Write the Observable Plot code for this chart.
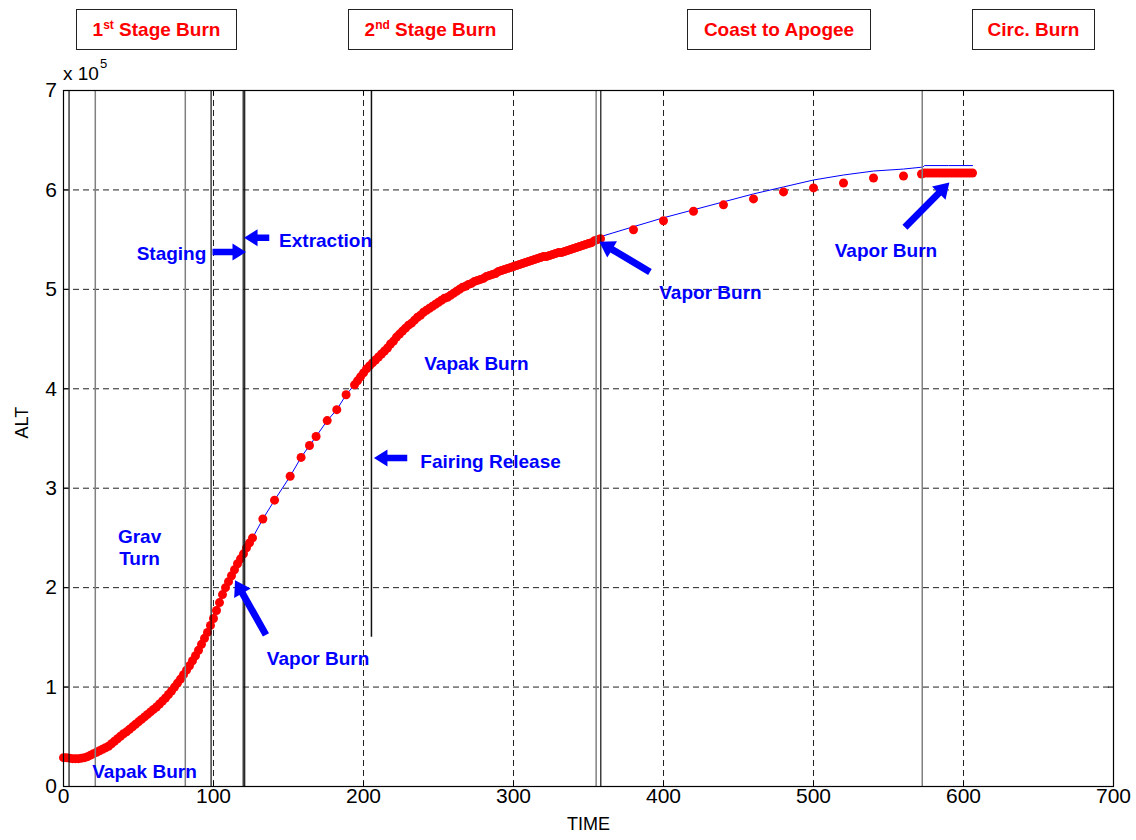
<!DOCTYPE html>
<html>
<head>
<meta charset="utf-8">
<script src="https://cdn.jsdelivr.net/npm/d3@7"></script>
<script src="https://cdn.jsdelivr.net/npm/@observablehq/plot@0.6"></script>
<style>
  body { margin: 0; background: #fff; }
  #chart { position: relative; width: 1136px; height: 840px; font-family: "Liberation Sans", Arial, Helvetica, sans-serif; }
  .phase { position: absolute; top: 9px; height: 41px; line-height: 40px; box-sizing: border-box; border: 1.5px solid #222;
           text-align: center; white-space: pre; color: #ff0000; font-weight: bold; font-size: 19px; background: #fff; }
  .phase sup { font-size: 12px; line-height: 0; vertical-align: 0; position: relative; top: -7px; }
</style>
</head>
<body>
<div id="chart"></div>
<script>
// Altitude values are in units of 10^5 (the axis multiplier), time in seconds.

// First stage ascent, densely sampled telemetry
const burnOneTime = [0,2,4,6,8,10,12,14,16,18,20,22,24,26,28,30,32,34,36,38,40,42,44,46,48,50,52,54,56,58,60,62,64,66,68,70,72,74,76,78,80,82,84,86,88,90,92,94,96,98,100,102,104,106,108,110,112,114,116,118,120,122,124,126];
const burnOneAlt  = [0.29,0.29,0.285,0.28,0.28,0.28,0.285,0.29,0.30,0.315,0.33,0.345,0.36,0.375,0.39,0.405,0.43,0.455,0.48,0.505,0.53,0.55,0.575,0.60,0.625,0.65,0.675,0.70,0.725,0.75,0.775,0.80,0.83,0.86,0.89,0.925,0.96,1.00,1.04,1.08,1.125,1.17,1.215,1.265,1.315,1.37,1.43,1.49,1.55,1.62,1.69,1.77,1.85,1.93,2.00,2.06,2.12,2.18,2.24,2.29,2.34,2.40,2.45,2.50];

// Sparse samples after staging
const stagingTime = [132.9,140.7,151.1,158.4,164,168.4,175.8,182.2,188.4,194];
const stagingAlt  = [2.69,2.88,3.12,3.31,3.43,3.52,3.68,3.79,3.94,4.04];

// Second stage burn, densely sampled
const burnTwoTime = [196,198,200,202,204,206,208,210,212,214,216,218,220,222,224,226,228,230,232,234,236,238,240,242,244,246,248,250,252,254,256,258,260,262,264,266,268,270,272,274,276,278,280,282,284,286,288,290,292,294,296,298,300,302,304,306,308,310,312,314,316,318,320,322,324,326,328,330,332,334,336,338,340,342,344,346,348,350,352,354,356,358];
const burnTwoAlt  = [4.08,4.12,4.16,4.20,4.23,4.26,4.29,4.32,4.35,4.38,4.41,4.45,4.48,4.52,4.55,4.58,4.61,4.64,4.66,4.69,4.72,4.74,4.77,4.79,4.81,4.83,4.85,4.87,4.89,4.91,4.92,4.94,4.96,4.98,5.00,5.02,5.03,5.05,5.06,5.08,5.09,5.10,5.11,5.13,5.14,5.15,5.16,5.18,5.19,5.20,5.21,5.22,5.23,5.24,5.25,5.26,5.27,5.28,5.29,5.30,5.31,5.32,5.33,5.33,5.34,5.35,5.36,5.37,5.37,5.38,5.39,5.40,5.41,5.42,5.43,5.44,5.45,5.46,5.47,5.49,5.50,5.51];

// Coast to apogee, sparse samples
const coastTime = [380,400,420,440,460,480,500,520,540,560];
const coastAlt  = [5.60,5.69,5.785,5.85,5.91,5.98,6.02,6.07,6.12,6.14];

// Circularization burn, densely sampled
const circTime = [572,574,576,578,580,582,584,586,588,590,592,594,596,598,600,602,604,606];
const circAlt  = [6.16,6.17,6.17,6.17,6.17,6.17,6.17,6.17,6.17,6.17,6.17,6.17,6.17,6.17,6.17,6.17,6.17,6.17];

// Nominal trajectory after the second-stage burn
const nominalTime = [358,380,400,420,440,460,480,500,520,540,560,573,574,590,606];
const nominalAlt  = [5.53,5.63,5.72,5.80,5.88,5.96,6.03,6.10,6.15,6.19,6.21,6.23,6.245,6.245,6.245];

// Event markers (seconds)
const eventTimesDark = [3.7, 98.4, 119.8, 120.8, 358.2];
const eventTimesGray = [21.2, 81.2, 355.1, 572.5];
const fairingTime = 205.3;
const fairingFloor = 1.5;

// Axes
const xTicks = [0,100,200,300,400,500,600,700];
const yTicks = [0,1,2,3,4,5,6,7];
const xGrid = [100,200,300,400,500,600];
const yGrid = [1,2,3,4,5,6];

// Phase banners
const phaseNames = ["1|st| Stage Burn", "2|nd| Stage Burn", "Coast to Apogee", "Circ. Burn"];

// Callout labels
const noteLabels = ["Staging","Extraction","Grav\nTurn","Vapak Burn","Vapor Burn","Vapak Burn","Fairing Release","Vapor Burn","Vapor Burn"];
const noteTime   = [72, 174.7, 50.7, 54, 169.7, 275.3, 284.7, 431.3, 548.3];
const noteAlt    = [5.37, 5.50, 2.41, 0.16, 1.29, 4.26, 3.27, 4.97, 5.40];

// Callout arrows: tail -> tip
const arrowTailTime = [99.7, 137.5, 135.3, 229.5, 391.3, 561.3];
const arrowTailAlt  = [5.37, 5.515, 1.52, 3.30, 5.17, 5.62];
const arrowTipTime  = [122, 120.7, 114.7, 207.3, 357.5, 590.9];
const arrowTipAlt   = [5.37, 5.515, 2.07, 3.30, 5.474, 6.07];

const zip = (ts, as) => ts.map((t, i) => ({t, alt: as[i]}));
const samples = [
  ...zip(burnOneTime, burnOneAlt),
  ...zip(stagingTime, stagingAlt),
  ...zip(burnTwoTime, burnTwoAlt),
  ...zip(coastTime, coastAlt),
  ...zip(circTime, circAlt)
];
const track = [
  ...zip(burnOneTime, burnOneAlt),
  ...zip(stagingTime, stagingAlt),
  ...zip(burnTwoTime, burnTwoAlt),
  ...zip(nominalTime, nominalAlt)
];
const notes = noteLabels.map((label, i) => ({label, t: noteTime[i], alt: noteAlt[i]}));

const W = 1136, H = 840, mL = 63, mR = 23, mT = 90, mB = 54;
const innerW = W - mL - mR, innerH = H - mT - mB;
const font = "'Liberation Sans', Arial, Helvetica, sans-serif";

const chart = Plot.plot({
  width: W, height: H,
  marginLeft: mL, marginRight: mR, marginTop: mT, marginBottom: mB,
  style: {fontFamily: font, background: "#fff", color: "#000", overflow: "visible"},
  x: {domain: [0, 700], axis: null},
  y: {domain: [0, 7], axis: null},
  marks: [
    Plot.ruleX(xGrid, {x: d => d, stroke: "#222", strokeWidth: 1, strokeDasharray: "6,4"}),
    Plot.ruleY(yGrid, {y: d => d, stroke: "#222", strokeWidth: 1, strokeDasharray: "6,4"}),
    Plot.line(track, {x: "t", y: "alt", stroke: "#0000ff", strokeWidth: 1}),
    Plot.dot(samples, {x: "t", y: "alt", r: 4.5, fill: "#ff0000", stroke: "none"}),
    Plot.ruleX(eventTimesGray, {x: d => d, stroke: "#808080", strokeWidth: 1.5}),
    Plot.ruleX(eventTimesDark, {x: d => d, stroke: "#111", strokeWidth: 1.2}),
    Plot.ruleX([fairingTime], {x: d => d, y1: fairingFloor, y2: 7, stroke: "#111", strokeWidth: 1.5}),
    Plot.frame({stroke: "#000", strokeWidth: 1.2}),
    // inward ticks on all four sides
    Plot.ruleX(xTicks, {x: d => d, insetTop: innerH - 5, stroke: "#000"}),
    Plot.ruleX(xTicks, {x: d => d, insetBottom: innerH - 5, stroke: "#000"}),
    Plot.ruleY(yTicks, {y: d => d, insetRight: innerW - 5, stroke: "#000"}),
    Plot.ruleY(yTicks, {y: d => d, insetLeft: innerW - 5, stroke: "#000"}),
    Plot.text(xTicks, {x: d => d, text: d => String(d), frameAnchor: "bottom", dy: 16, fontSize: 21, fill: "#000"}),
    Plot.text(yTicks, {y: d => d, text: d => String(d), frameAnchor: "left", dx: -6.5, textAnchor: "end", fontSize: 21, fill: "#000"}),
    Plot.text(["TIME"], {text: d => d, frameAnchor: "bottom", dy: 43, fontSize: 18, fill: "#000"}),
    Plot.text(["ALT"], {text: d => d, frameAnchor: "left", dx: -41, rotate: -90, fontSize: 18, fill: "#000"}),
    Plot.text(notes, {x: "t", y: "alt", text: "label", fill: "#0000ff", fontWeight: "bold", fontSize: 19, lineHeight: 1.15, ariaLabel: "callout"})
  ]
});

const root = document.getElementById("chart");
root.appendChild(chart);

// White boxes behind callout labels
const calloutGroup = chart.querySelector('g[aria-label="callout"]');
if (calloutGroup) {
  calloutGroup.querySelectorAll("text").forEach(txt => {
    const b = txt.getBBox();
    const r = document.createElementNS("http://www.w3.org/2000/svg", "rect");
    r.setAttribute("x", b.x - 2);
    r.setAttribute("y", b.y);
    r.setAttribute("width", b.width + 4);
    r.setAttribute("height", b.height);
    r.setAttribute("fill", "#fff");
    const tf = txt.getAttribute("transform");
    if (tf) r.setAttribute("transform", tf);
    calloutGroup.insertBefore(r, txt);
  });
}

// Filled callout arrows, positioned through the plot's scales
const sx = chart.scale("x"), sy = chart.scale("y");
const fx = v => sx.apply(v), fy = v => sy.apply(v);
const svg = d3.select(chart);
const arrowLayer = svg.append("g").attr("fill", "#0000ff");
arrowTipTime.forEach((_, i) => {
  const x0 = fx(arrowTailTime[i]), y0 = fy(arrowTailAlt[i]);
  const x1 = fx(arrowTipTime[i]), y1 = fy(arrowTipAlt[i]);
  const diag = Math.abs(y1 - y0) > 1;
  const shaft = diag ? 7 : 6.5, headLen = diag ? 15 : 13.5, headW = diag ? 19 : 17;
  const dx = x1 - x0, dy = y1 - y0, L = Math.hypot(dx, dy);
  const ux = dx / L, uy = dy / L, nx = -uy, ny = ux;
  const bx = x1 - ux * headLen, by = y1 - uy * headLen;
  const pts = [
    [x0 + nx * shaft / 2, y0 + ny * shaft / 2],
    [bx + nx * shaft / 2, by + ny * shaft / 2],
    [bx + nx * headW / 2, by + ny * headW / 2],
    [x1, y1],
    [bx - nx * headW / 2, by - ny * headW / 2],
    [bx - nx * shaft / 2, by - ny * shaft / 2],
    [x0 - nx * shaft / 2, y0 - ny * shaft / 2]
  ];
  arrowLayer.append("polygon").attr("points", pts.map(p => p.join(",")).join(" "));
});

// Axis multiplier
const mult = svg.append("text").attr("x", 63).attr("y", 80).attr("text-anchor", "start")
  .attr("font-family", font).attr("font-size", 19).attr("fill", "#000").text("x 10");
mult.append("tspan").attr("dy", -12).attr("dx", 1).attr("font-size", 13).text("5");

// Phase banners above the axes
const bannerLeft = [76, 348, 687, 972];
const bannerWidth = [161, 165, 184, 123];
phaseNames.forEach((name, i) => {
  const div = document.createElement("div");
  div.className = "phase";
  div.style.left = bannerLeft[i] + "px";
  div.style.width = bannerWidth[i] + "px";
  const parts = name.split("|");
  parts.forEach((p, j) => {
    if (j % 2 === 1) { const s = document.createElement("sup"); s.textContent = p; div.appendChild(s); }
    else div.appendChild(document.createTextNode(p));
  });
  root.appendChild(div);
});
</script>
</body>
</html>
